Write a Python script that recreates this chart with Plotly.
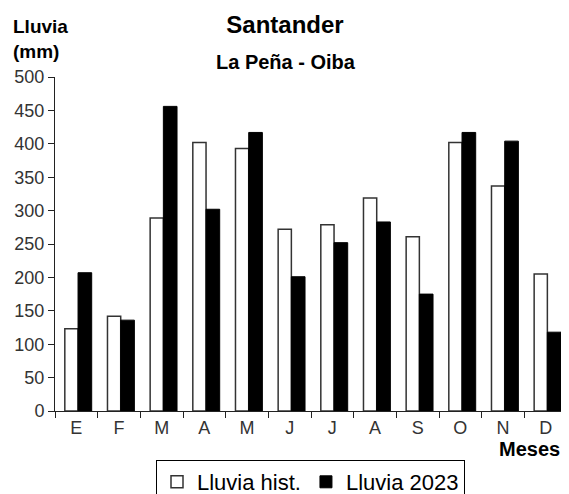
import plotly.graph_objects as go

meses = ["E", "F", "M", "A", "M", "J", "J", "A", "S", "O", "N", "D"]
lluvia_hist = [123, 142, 289, 402, 393, 272, 279, 319, 261, 402, 337, 205]
lluvia_2023 = [207, 136, 456, 302, 417, 201, 252, 283, 175, 417, 404, 118]

# month letters repeat, so plot on positions and label them
x = list(range(len(meses)))

font = "Liberation Sans, Arial, sans-serif"
# the page body has an 8px margin, so the figure is sized to fit inside the window
W, H = 561, 486

fig = go.Figure()
fig.add_bar(x=x, y=lluvia_hist, name="Lluvia hist.", offset=-0.27, width=0.31,
            marker=dict(color="white", line=dict(color="#333", width=1.5)))
fig.add_bar(x=x, y=lluvia_2023, name="Lluvia 2023", offset=0.04, width=0.32,
            marker=dict(color="black", line=dict(color="black", width=1)))
# empty trace on a second axis that only carries the boundary tick marks
fig.add_trace(go.Scatter(x=[], y=[], showlegend=False, xaxis="x2"))

fig.update_layout(
    width=W, height=H,
    margin=dict(l=47, r=2, t=69, b=H - 403),
    paper_bgcolor="white", plot_bgcolor="white",
    font=dict(family=font, color="black"),
    barmode="overlay",
    title=dict(text="<b>Santander</b>", x=277 / W, xref="container",
               y=1 - 17 / H, yanchor="middle", font=dict(size=24)),
    legend=dict(orientation="h", xref="container", yref="container",
                x=148 / W, xanchor="left", y=1 - 452 / H, yanchor="top",
                bordercolor="black", borderwidth=1, font=dict(size=22),
                itemwidth=30, tracegroupgap=0),
    showlegend=True,
)

fig.update_xaxes(
    tickmode="array", tickvals=x, ticktext=meses,
    range=[-0.5, 11.5], showline=True, linecolor="#222", linewidth=1,
    ticks="", showgrid=False, automargin=False,
    tickfont=dict(size=18, color="#333"),
)
fig.update_yaxes(
    range=[0, 500], dtick=50, showline=True, linecolor="#222", linewidth=1,
    ticks="outside", ticklen=6, tickcolor="#222", showgrid=False, zeroline=False,
    automargin=False, tickfont=dict(size=18, color="#333"),
)
fig.update_layout(xaxis2=dict(overlaying="x", matches="x", range=[-0.5, 11.5],
                              tickmode="array", tickvals=[i - 0.5 for i in range(13)],
                              ticktext=[""] * 13, ticks="outside", ticklen=6,
                              tickcolor="#222", side="bottom", showgrid=False,
                              anchor="y", automargin=False))

fig.add_annotation(text="<b>Lluvia<br>(mm)</b>", xref="paper", yref="paper",
                   x=0, xshift=-44, xanchor="left", y=1.19, yanchor="top",
                   align="left", showarrow=False, font=dict(size=19))
fig.add_annotation(text="<b>La Peña - Oiba</b>", xref="paper", yref="paper",
                   x=0.451, y=(403 - 54) / 334, yanchor="middle",
                   showarrow=False, font=dict(size=20))
fig.add_annotation(text="<b>Meses</b>", xref="paper", yref="paper",
                   x=1, xanchor="right", xshift=-5, y=(403 - 441) / 334,
                   yanchor="middle", showarrow=False, font=dict(size=20))

fig.write_html("out.html")
